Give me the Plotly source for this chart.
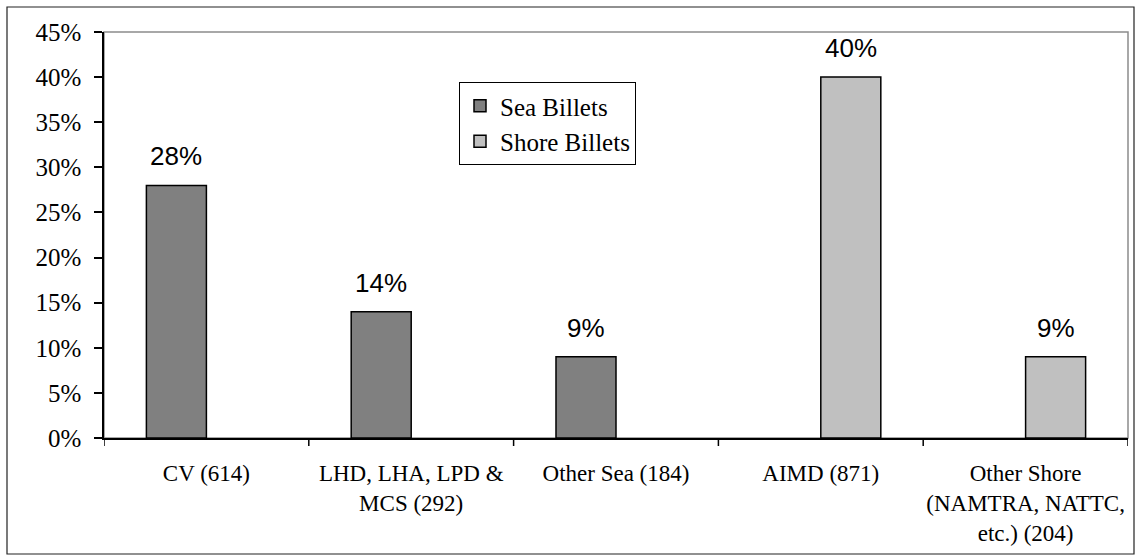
import plotly.graph_objects as go

# Billet distribution by activity type
categories = ["CV (614)", "LHD, LHA, LPD &<br>MCS (292)", "Other Sea (184)",
              "AIMD (871)", "Other Shore<br>(NAMTRA, NATTC,<br>etc.) (204)"]
sea_billets = [0.28, 0.14, 0.09, 0.0, 0.0]
shore_billets = [0.0, 0.0, 0.0, 0.40, 0.09]
y_ticks = [0, 0.05, 0.10, 0.15, 0.20, 0.25, 0.30, 0.35, 0.40, 0.45]
y_tick_text = [f"{round(t * 100)}%" for t in y_ticks]

W, H = 1136, 556
ML, MR, MT, MB = 104, 8, 32, 118
PW, PH = W - ML - MR, H - MT - MB

BAR_W = 0.293  # fraction of a category slot per bar
SERIF = "Liberation Serif"
SANS = "Liberation Sans"

idx = list(range(len(categories)))


def drawn(values):
    # empty slots are left out so no outline is stroked on the baseline
    return [v if v > 0 else None for v in values]


fig = go.Figure()
fig.add_trace(go.Bar(
    name="Sea Billets", x=idx, y=drawn(sea_billets),
    width=BAR_W, offset=-BAR_W,
    marker=dict(color="#808080", line=dict(color="#000000", width=1.5)),
))
fig.add_trace(go.Bar(
    name="Shore Billets", x=idx, y=drawn(shore_billets),
    width=BAR_W, offset=0,
    marker=dict(color="#C0C0C0", line=dict(color="#000000", width=1.5)),
))

# value labels above the non-zero bars
annotations = []
for series, shift in ((sea_billets, -BAR_W / 2), (shore_billets, BAR_W / 2)):
    for i, v in enumerate(series):
        if v > 0:
            annotations.append(dict(x=i + shift, y=v, text=f"{round(v * 100)}%",
                                    showarrow=False, yanchor="bottom", yshift=12,
                                    font=dict(family=SANS, size=26, color="#000")))

# outer frame in paper coordinates
fx0 = (7 - ML) / PW
fx1 = (1134 - ML) / PW
fy0 = (MT + PH - 554) / PH
fy1 = (MT + PH - 7) / PH

shapes = [
    dict(type="rect", xref="paper", yref="paper", x0=fx0, x1=fx1, y0=fy0, y1=fy1,
         line=dict(color="#222222", width=1.2), fillcolor="rgba(0,0,0,0)", layer="below"),
    dict(type="rect", xref="paper", yref="paper", x0=0, x1=1, y0=0, y1=1,
         line=dict(color="#8c8c8c", width=1.5), fillcolor="rgba(0,0,0,0)", layer="below"),
]

fig.update_layout(
    width=W, height=H,
    margin=dict(l=ML, r=MR, t=MT, b=MB),
    paper_bgcolor="white", plot_bgcolor="white",
    font=dict(family=SERIF, color="#000"),
    barmode="overlay",
    showlegend=True,
    legend=dict(x=(459 - ML) / PW, y=(MT + PH - 82) / PH, xanchor="left", yanchor="top",
                bgcolor="white", bordercolor="#000000", borderwidth=1,
                font=dict(family=SERIF, size=25, color="#000"),
                tracegroupgap=2, itemwidth=30),
    annotations=annotations,
    shapes=shapes,
    xaxis=dict(
        type="linear", range=[-0.5, len(categories) - 0.5],
        tickmode="array", tickvals=idx, ticktext=categories,
        showline=True, linecolor="#000000", linewidth=1.5,
        ticks="", showgrid=False, zeroline=False,
        tickfont=dict(family=SERIF, size=23, color="#000"),
        ticklabelstandoff=14,
    ),
    yaxis=dict(
        range=[0, 0.45], tickmode="array", tickvals=y_ticks, ticktext=y_tick_text,
        showline=True, linecolor="#000000", linewidth=1.5,
        ticks="outside", ticklen=8, tickcolor="#000000", tickwidth=1.5,
        showgrid=False, zeroline=False,
        tickfont=dict(family=SERIF, size=25, color="#000"),
        ticklabelstandoff=8,
    ),
)

# tick marks at the category boundaries
for b in [i - 0.5 for i in range(len(categories) + 1)]:
    fig.add_shape(type="line", xref="x", yref="paper", x0=b, x1=b, y0=0, y1=-8 / PH,
                  line=dict(color="#000000", width=1.5))

fig.write_html("out.html")
